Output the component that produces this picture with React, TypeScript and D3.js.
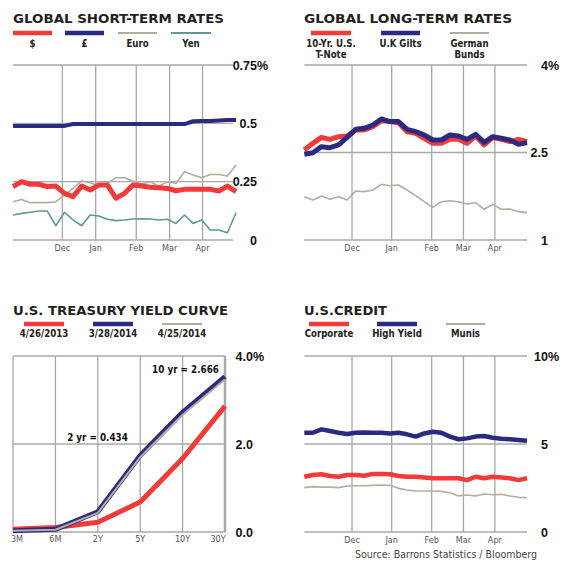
import React from "react";
import * as d3 from "d3";

// ---------- GLOBAL SHORT-TERM RATES (weekly, late Oct 2013 – Apr 25 2014) ----------
const shortUSD = [0.229, 0.25, 0.239, 0.239, 0.229, 0.231, 0.2, 0.186, 0.231, 0.214, 0.236, 0.236, 0.179, 0.2, 0.236, 0.231, 0.226, 0.224, 0.221, 0.211, 0.217, 0.217, 0.217, 0.217, 0.21, 0.231, 0.207];
const shortGBP = [0.489, 0.489, 0.489, 0.489, 0.489, 0.489, 0.489, 0.497, 0.497, 0.497, 0.497, 0.497, 0.497, 0.497, 0.497, 0.497, 0.497, 0.497, 0.497, 0.497, 0.497, 0.509, 0.51, 0.51, 0.512, 0.514, 0.514];
const shortEUR = [0.164, 0.174, 0.16, 0.16, 0.16, 0.164, 0.193, 0.221, 0.253, 0.246, 0.229, 0.243, 0.267, 0.267, 0.253, 0.24, 0.25, 0.231, 0.25, 0.243, 0.293, 0.279, 0.267, 0.281, 0.281, 0.274, 0.321];
const shortJPY = [0.107, 0.114, 0.119, 0.124, 0.124, 0.061, 0.119, 0.086, 0.061, 0.107, 0.103, 0.089, 0.083, 0.086, 0.09, 0.091, 0.09, 0.086, 0.089, 0.071, 0.107, 0.071, 0.086, 0.043, 0.043, 0.031, 0.117];
const shortYTicks = [0, 0.25, 0.5, 0.75];
const shortYLabels = ["0", "0.25", "0.5", "0.75"];
const shortMonthPos = [5.75, 9.64, 14.37, 18.26, 22.1];

// ---------- GLOBAL LONG-TERM RATES ----------
const longUS = [2.543, 2.657, 2.76, 2.726, 2.771, 2.783, 2.886, 2.886, 2.943, 3.046, 3.03, 3.01, 2.857, 2.83, 2.743, 2.657, 2.657, 2.726, 2.726, 2.657, 2.783, 2.63, 2.76, 2.726, 2.686, 2.726, 2.686];
const longUK = [2.469, 2.497, 2.6, 2.583, 2.629, 2.76, 2.897, 2.914, 2.971, 3.074, 3.03, 3.03, 2.897, 2.857, 2.8, 2.714, 2.714, 2.8, 2.783, 2.726, 2.811, 2.674, 2.771, 2.743, 2.714, 2.64, 2.669];
const longDE = [1.743, 1.686, 1.754, 1.697, 1.743, 1.686, 1.84, 1.829, 1.857, 1.954, 1.931, 1.943, 1.857, 1.76, 1.657, 1.56, 1.657, 1.674, 1.657, 1.617, 1.64, 1.526, 1.611, 1.526, 1.53, 1.486, 1.469];
const longYTicks = [1, 2.5, 4];
const longYLabels = ["1", "2.5", "4"];
const rightMonthPos = [5.57, 10.2, 14.87, 18.58, 22.25];

const months = ["Dec", "Jan", "Feb", "Mar", "Apr"];

// ---------- U.S. TREASURY YIELD CURVE ----------
const maturities = ["3M", "6M", "2Y", "5Y", "10Y", "30Y"];
const yieldApr2013 = [0.06, 0.1, 0.22, 0.68, 1.67, 2.86];
const yieldMar2014 = [0.03, 0.06, 0.46, 1.74, 2.72, 3.53];
const yieldApr2014 = [0.03, 0.05, 0.434, 1.7, 2.666, 3.47];
const curveYTicks = [0, 2, 4];
const curveYLabels = ["0.0", "2.0", "4.0"];
const curveNotes = [
  { text: "10 yr = 2.666", at: "10Y" },
  { text: "2 yr = 0.434", at: "2Y" },
];

// ---------- U.S. CREDIT ----------
const creditCorp = [3.14, 3.24, 3.28, 3.18, 3.14, 3.24, 3.24, 3.2, 3.3, 3.3, 3.28, 3.18, 3.14, 3.14, 3.1, 3.05, 3.05, 3.05, 3.05, 2.95, 3.14, 3.05, 3.14, 3.1, 3.05, 2.95, 3.05];
const creditHY = [5.64, 5.64, 5.83, 5.74, 5.64, 5.57, 5.64, 5.66, 5.64, 5.64, 5.6, 5.64, 5.55, 5.42, 5.6, 5.7, 5.64, 5.42, 5.27, 5.32, 5.42, 5.45, 5.36, 5.3, 5.27, 5.23, 5.19];
const creditMunis = [2.52, 2.58, 2.55, 2.55, 2.52, 2.61, 2.63, 2.63, 2.65, 2.67, 2.65, 2.48, 2.39, 2.33, 2.33, 2.33, 2.31, 2.23, 2.05, 2.1, 2.05, 2.16, 2.12, 2.14, 2.05, 1.97, 1.95];
const creditYTicks = [0, 5, 10];
const creditYLabels = ["0", "5", "10"];

// ---------- styles ----------
const RED = "#f23a3a";
const BLUE = "#2c2a80";
const BEIGE = "#b3ad9f";
const TEAL = "#5f9898";
const GRID = "#a8a8a8";
const TITLE_FONT = "'DejaVu Sans', sans-serif";
const COND = "'DejaVu Sans Condensed', 'Liberation Sans Narrow', sans-serif";
const NUM_FONT = "'Liberation Sans', Arial, sans-serif";

type Series = { values: number[]; color: string; width: number };
type LegendItem = { lines: string[]; color: string; thick: boolean; x0: number; x1: number };

function Legend({ items, barY, labelY }: { items: LegendItem[]; barY: number; labelY: number }) {
  return (
    <g>
      {items.map((it, i) => (
        <g key={i}>
          <line x1={it.x0} x2={it.x1} y1={barY} y2={barY} stroke={it.color} strokeWidth={it.thick ? 4.3 : 1.8} />
          {it.lines.map((l, j) => (
            <text key={j} x={(it.x0 + it.x1) / 2} y={labelY + j * 11.5} textAnchor="middle"
              fontFamily={COND} fontWeight="bold" fontSize={9.6} fill="#222">{l}</text>
          ))}
        </g>
      ))}
    </g>
  );
}

function YLabels({ y, ticks, labels, right, pct }: { y: d3.ScaleLinear<number, number>; ticks: number[]; labels: string[]; right: number; pct: boolean }) {
  return (
    <g fontFamily={NUM_FONT} fontWeight="bold" fontSize={12.5} fill="#111">
      {ticks.map((t, i) => (
        <text key={i} x={right} y={y(t)} dy="0.36em" textAnchor="end">{labels[i]}</text>
      ))}
      {pct && <text x={right} y={y(ticks[ticks.length - 1])} dy="0.36em" textAnchor="start">%</text>}
    </g>
  );
}

function TimePanel(props: {
  gx0: number; gx1: number; dx1: number; yTop: number; yBot: number; domain: [number, number];
  ticks: number[]; labels: string[]; labelRight: number; monthPos: number[]; series: Series[];
}) {
  const { gx0, gx1, dx1, yTop, yBot, domain, ticks, labels, labelRight, monthPos, series } = props;
  const n = series[0].values.length;
  const x = d3.scaleLinear().domain([0, n - 1]).range([gx0, dx1]);
  const y = d3.scaleLinear().domain(domain).range([yBot, yTop]);
  const line = d3.line<number>().x((_, i) => x(i)).y((d) => y(d));
  return (
    <g>
      {monthPos.map((m, i) => (
        <g key={i}>
          <line x1={x(m)} x2={x(m)} y1={yTop} y2={yBot} stroke={GRID} strokeWidth={1.3} />
          <text x={x(m)} y={yBot + 10.5} textAnchor="middle" fontFamily={COND} fontSize={9} fill="#555">{months[i]}</text>
        </g>
      ))}
      {ticks.map((t, i) => (
        <line key={i} x1={gx0} x2={gx1} y1={y(t)} y2={y(t)} stroke={GRID} strokeWidth={1.3} />
      ))}
      {series.map((s, i) => (
        <path key={i} d={line(s.values) || ""} fill="none" stroke={s.color} strokeWidth={s.width}
          strokeLinejoin="round" strokeLinecap="butt" />
      ))}
      <YLabels y={y} ticks={ticks} labels={labels} right={labelRight} pct={true} />
    </g>
  );
}

function CurvePanel() {
  const x = d3.scalePoint<string>().domain(maturities).range([13, 225]);
  const y = d3.scaleLinear().domain([0, 4]).range([532, 356]);
  const line = d3.line<number>().x((_, i) => x(maturities[i]) as number).y((d) => y(d));
  const sets: Series[] = [
    { values: yieldApr2013, color: RED, width: 5 },
    { values: yieldMar2014, color: BLUE, width: 5 },
    { values: yieldApr2014, color: BEIGE, width: 2 },
  ];
  const noteY = [yieldApr2014[4] + 1.03, yieldApr2014[2] + 1.72];
  return (
    <g>
      {maturities.map((m, i) => (
        <g key={m}>
          <line x1={x(m)} x2={x(m)} y1={356} y2={532} stroke={GRID} strokeWidth={i === maturities.length - 1 ? 2.5 : 1.3} />
          <text x={(x(m) as number) + (i === 0 ? 4 : i === maturities.length - 1 ? -7 : 0)} y={541.5}
            textAnchor="middle" fontFamily={COND} fontSize={9} fill="#555">{m}</text>
        </g>
      ))}
      {curveYTicks.map((t, i) => (
        <line key={i} x1={13} x2={225} y1={y(t)} y2={y(t)} stroke={GRID} strokeWidth={1.3} />
      ))}
      {sets.map((s, i) => (
        <path key={i} d={line(s.values) || ""} fill="none" stroke={s.color} strokeWidth={s.width} strokeLinejoin="round" />
      ))}
      <text x={185.5} y={y(noteY[0])} dy="0.35em" textAnchor="middle" fontFamily={COND} fontWeight="bold" fontSize={9.8} fill="#111">{curveNotes[0].text}</text>
      <text x={97.5} y={y(noteY[1])} dy="0.35em" textAnchor="middle" fontFamily={COND} fontWeight="bold" fontSize={9.8} fill="#111">{curveNotes[1].text}</text>
      <YLabels y={y} ticks={curveYTicks} labels={curveYLabels} right={253} pct={true} />
    </g>
  );
}

export default function App() {
  return (
    <svg width={565} height={565} style={{ position: "fixed", left: 0, top: 0, background: "#fff" }}>
      <rect width={565} height={565} fill="#fff" />
      {/* Titles */}
      <g fontFamily={TITLE_FONT} fontWeight="bold" fontSize={13} fill="#231f20">
        <text x={13} y={23} textLength={211} lengthAdjust="spacingAndGlyphs">GLOBAL SHORT-TERM RATES</text>
        <text x={304} y={23} textLength={208} lengthAdjust="spacingAndGlyphs">GLOBAL LONG-TERM RATES</text>
        <text x={13} y={315} textLength={215} lengthAdjust="spacingAndGlyphs">U.S. TREASURY YIELD CURVE</text>
        <text x={304} y={315} textLength={83} lengthAdjust="spacingAndGlyphs">U.S.CREDIT</text>
      </g>

      <Legend barY={33} labelY={46.5} items={[
        { lines: ["$"], color: RED, thick: true, x0: 13, x1: 52 },
        { lines: ["£"], color: BLUE, thick: true, x0: 65, x1: 104 },
        { lines: ["Euro"], color: BEIGE, thick: false, x0: 118, x1: 157 },
        { lines: ["Yen"], color: TEAL, thick: false, x0: 171, x1: 211 },
      ]} />
      <Legend barY={33} labelY={46.5} items={[
        { lines: ["10-Yr. U.S.", "T-Note"], color: RED, thick: true, x0: 311, x1: 351 },
        { lines: ["U.K Gilts"], color: BLUE, thick: true, x0: 381, x1: 420 },
        { lines: ["German", "Bunds"], color: BEIGE, thick: false, x0: 450, x1: 489 },
      ]} />
      <Legend barY={324} labelY={337} items={[
        { lines: ["4/26/2013"], color: RED, thick: true, x0: 24, x1: 64 },
        { lines: ["3/28/2014"], color: BLUE, thick: true, x0: 93, x1: 133 },
        { lines: ["4/25/2014"], color: BEIGE, thick: false, x0: 162, x1: 202 },
      ]} />
      <Legend barY={324} labelY={337} items={[
        { lines: ["Corporate"], color: RED, thick: true, x0: 309, x1: 349 },
        { lines: ["High Yield"], color: BLUE, thick: true, x0: 377, x1: 417 },
        { lines: ["Munis"], color: BEIGE, thick: false, x0: 446, x1: 485 },
      ]} />

      <TimePanel gx0={13} gx1={233} dx1={236} yTop={65} yBot={240} domain={[0, 0.75]}
        ticks={shortYTicks} labels={shortYLabels} labelRight={257} monthPos={shortMonthPos}
        series={[
          { values: shortEUR, color: BEIGE, width: 1.6 },
          { values: shortJPY, color: TEAL, width: 1.6 },
          { values: shortUSD, color: RED, width: 5 },
          { values: shortGBP, color: BLUE, width: 4 },
        ]} />
      <TimePanel gx0={304.3} gx1={527} dx1={527} yTop={65} yBot={240} domain={[1, 4]}
        ticks={longYTicks} labels={longYLabels} labelRight={548} monthPos={rightMonthPos}
        series={[
          { values: longDE, color: BEIGE, width: 1.6 },
          { values: longUS, color: RED, width: 5 },
          { values: longUK, color: BLUE, width: 5 },
        ]} />
      <CurvePanel />
      <TimePanel gx0={304.3} gx1={527} dx1={527} yTop={356} yBot={532} domain={[0, 10]}
        ticks={creditYTicks} labels={creditYLabels} labelRight={548} monthPos={rightMonthPos}
        series={[
          { values: creditMunis, color: BEIGE, width: 1.6 },
          { values: creditCorp, color: RED, width: 4.5 },
          { values: creditHY, color: BLUE, width: 4.5 },
        ]} />

      <text x={537} y={558} textAnchor="end" fontFamily={COND} fontSize={10.2} fill="#444"
        textLength={182} lengthAdjust="spacingAndGlyphs">Source: Barrons Statistics / Bloomberg</text>
    </svg>
  );
}
